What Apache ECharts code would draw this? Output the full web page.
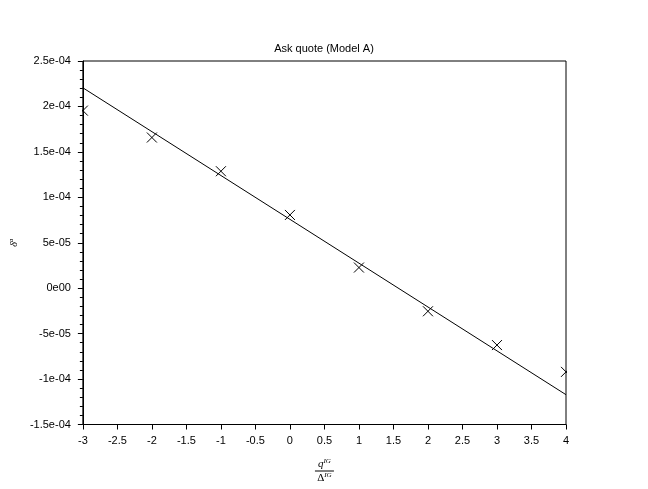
<!DOCTYPE html>
<html>
<head>
<meta charset="utf-8">
<script src="https://cdn.jsdelivr.net/npm/echarts@6/dist/echarts.min.js"></script>
<style>html,body{margin:0;padding:0;background:#fff}#c{width:648px;height:489px}</style>
</head>
<body>
<div id="c"></div>
<script>
var pointsX = [-3, -2, -1, 0, 1, 2, 3, 4];
var pointsY = [1.954e-4, 1.658e-4, 1.287e-4, 8.06e-5, 2.27e-5, -2.54e-5, -6.26e-5, -9.21e-5];
var fitX = [-3, 4];
var fitY = [2.205e-4, -1.172e-4];

function fmtY(v) {
  if (Math.abs(v) < 1e-12) return '0e00';
  var s = Number(v.toPrecision(8)).toExponential();
  return s.replace(/e([+-])(\d)$/, 'e$10$2');
}

var chart = echarts.init(document.getElementById('c'), null, {renderer: 'canvas'});
var font = 'Liberation Sans, Arial, sans-serif';
chart.setOption({
  animation: false,
  backgroundColor: '#fff',
  title: {
    text: 'Ask quote (Model A)',
    left: 'center',
    top: 38,
    textStyle: {fontSize: 11, fontWeight: 'normal', color: '#000', fontFamily: font}
  },
  grid: {left: 80, right: 82, top: 61, bottom: 62, show: true, borderColor: '#000', borderWidth: 1, backgroundColor: 'transparent'},
  xAxis: {
    type: 'value', min: -3, max: 4, interval: 0.5,
    axisLine: {show: true, onZero: false, lineStyle: {color: '#000', width: 1}},
    axisTick: {show: true, inside: false, length: 5, lineStyle: {color: '#000'}},
    axisLabel: {color: '#000', fontSize: 11, fontFamily: font, margin: 11},
    splitLine: {show: false},
    name: '{q|q}{s|IG}\n{l|}\n{d|Δ}{s|IG}',
    nameLocation: 'middle',
    nameGap: 34,
    nameTextStyle: {
      color: '#000',
      rich: {
        q: {fontFamily: 'Liberation Serif, serif', fontStyle: 'italic', fontSize: 11, lineHeight: 11},
        d: {fontFamily: 'Liberation Serif, serif', fontSize: 11, lineHeight: 11},
        s: {fontFamily: 'Liberation Serif, serif', fontStyle: 'italic', fontSize: 7, lineHeight: 11, padding: [0, 0, 5, 0]},
        l: {width: 19, height: 1, lineHeight: 3, backgroundColor: '#000'}
      }
    }
  },
  yAxis: {
    type: 'value', min: -1.5e-4, max: 2.5e-4, interval: 5e-5,
    axisLine: {show: true, onZero: false, lineStyle: {color: '#000', width: 1}},
    axisTick: {show: true, inside: false, length: 5, lineStyle: {color: '#000'}},
    minorTick: {show: true, splitNumber: 5, length: 3, lineStyle: {color: '#000'}},
    axisLabel: {color: '#000', fontSize: 11, fontFamily: font, margin: 12, formatter: fmtY},
    splitLine: {show: false},
    name: '{b|δ}{s|a}',
    nameLocation: 'middle',
    nameRotate: 90,
    nameGap: 52,
    nameTextStyle: {
      color: '#000',
      rich: {
        b: {fontFamily: 'Liberation Serif, serif', fontStyle: 'italic', fontSize: 10},
        s: {fontFamily: 'Liberation Serif, serif', fontStyle: 'italic', fontSize: 7, padding: [0, 0, 5, 0]}
      }
    }
  },
  series: [
    {
      type: 'line',
      data: fitX.map(function (x, i) { return [x, fitY[i]]; }),
      showSymbol: false,
      symbol: 'none',
      lineStyle: {color: '#000', width: 1},
      clip: true
    },
    {
      type: 'custom',
      clip: true,
      data: pointsX.map(function (x, i) { return [x, pointsY[i]]; }),
      renderItem: function (params, api) {
        var p = api.coord([api.value(0), api.value(1)]);
        var r = 5;
        return {
          type: 'group',
          children: [
            {type: 'line', shape: {x1: p[0] - r, y1: p[1] - r, x2: p[0] + r, y2: p[1] + r}, style: {stroke: '#000', lineWidth: 1}},
            {type: 'line', shape: {x1: p[0] - r, y1: p[1] + r, x2: p[0] + r, y2: p[1] - r}, style: {stroke: '#000', lineWidth: 1}}
          ]
        };
      }
    }
  ]
});
</script>
</body>
</html>
